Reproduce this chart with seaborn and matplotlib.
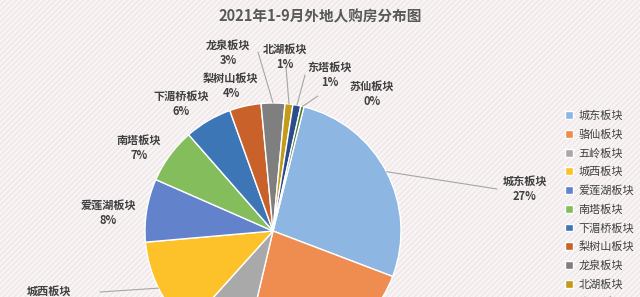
import matplotlib
matplotlib.use('Agg')
import matplotlib.pyplot as plt
from matplotlib.patches import Rectangle
import numpy as np
import seaborn as sns

# data (share of buyers, %)
blocks = ['城东板块', '骆仙板块', '五岭板块', '城西板块', '爱莲湖板块', '南塔板块',
          '下湄桥板块', '梨树山板块', '龙泉板块', '北湖板块', '东塔板块', '苏仙板块']
shares = [27, 23, 8, 12, 8, 7, 6, 4, 3, 1, 1, 0.4]
colors = ['#8db6e3', '#ef8c4f', '#a9a9a9', '#fdc12a', '#6283cc', '#84bd5c',
          '#3c76b6', '#c8622a', '#7f7f7f', '#c39a19', '#2c4c8c', '#4a7a32']

title = '2021年1-9月外地人购房分布图'

# label centres in pixels (x, y from top); None = outside the visible crop
label_pos = [(525, 189), None, None, (49, 299), (108, 213), (139, 148),
             (181, 104), (231, 86), (228, 53), (285, 57), (330, 75), (372, 94)]
# end points of leader lines (pixels), only for some labels
leader_end = {0: (497, 189), 3: (100, 292), 8: (258, 52), 9: (286, 67),
              10: (305, 75), 11: (318, 96)}

W, H = 640, 297
sns.set_theme(style='white')
plt.rcParams['font.family'] = ['Noto Sans CJK SC', 'DejaVu Sans']
plt.rcParams['hatch.linewidth'] = 0.6


def px(x, y):
    return x, H - y


fig = plt.figure(figsize=(6.4, 2.97), dpi=100)
fig.patch.set_facecolor('#f6f4f4')
fig.add_artist(Rectangle((0, 0), 1, 1, transform=fig.transFigure,
                         facecolor='#f6f4f4', edgecolor='#f0dede', hatch='//////',
                         lw=0, zorder=-5))

ax = fig.add_axes([0, 0, 1, 1])
cx, cy = px(273, 231)
R = 128
wedges, _ = ax.pie(shares, colors=colors, startangle=76, counterclock=False,
                   center=(cx, cy), radius=R,
                   wedgeprops=dict(edgecolor='white', linewidth=1))
ax.set_xlim(0, W)
ax.set_ylim(0, H)
ax.set_aspect('equal')
ax.axis('off')

total = sum(shares)
for i, (name, v) in enumerate(zip(blocks, shares)):
    if label_pos[i] is None:
        continue
    lx, ly = px(*label_pos[i])
    ax.text(lx, ly, f'{name}\n{round(v / total * 100):.0f}%', ha='center', va='center',
            fontsize=8, fontweight='bold', color='#404040', linespacing=1.15)
    if i in leader_end:
        w = wedges[i]
        mid = np.deg2rad((w.theta1 + w.theta2) / 2)
        x0, y0 = cx + R * np.cos(mid), cy + R * np.sin(mid)
        x1, y1 = px(*leader_end[i])
        ax.plot([x0, x1], [y0, y1], color='#a6a6a6', lw=0.8)

ax.text(320, H - 16, title, ha='center', va='center', fontsize=10.5,
        fontweight='bold', color='#595959')

ax.legend(wedges, blocks, loc='upper left', bbox_to_anchor=(561 / W, 1 - 106 / H),
          frameon=False, fontsize=8, handlelength=0.7, handleheight=0.7,
          handletextpad=0.5, labelspacing=0.73, labelcolor='#404040',
          borderaxespad=0)

fig.savefig('out.png', dpi=100, facecolor=fig.get_facecolor())
